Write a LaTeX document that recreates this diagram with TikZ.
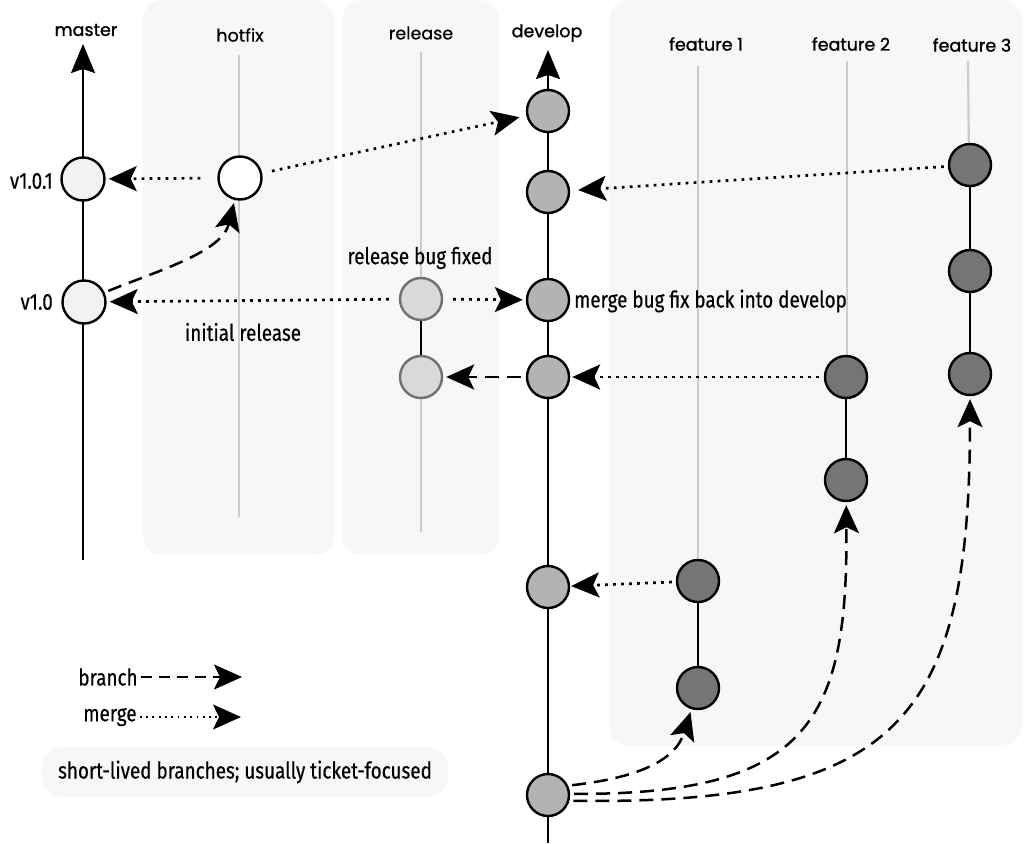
\documentclass[tikz,border=0pt]{standalone}
\usepackage{fontspec}
\setmainfont{Fira Sans}[FakeStretch=0.82,FakeBold=0.4]
\newfontfamily\titlefont{Poppins}[FakeBold=1.2]
\newfontfamily\titlelightfont{Poppins}[FakeBold=0.5]
\usetikzlibrary{arrows.meta}
\definecolor{panel}{HTML}{F7F7F7}
\definecolor{masterfill}{HTML}{F2F2F2}
\definecolor{relfill}{HTML}{D9D9D9}
\definecolor{relstroke}{HTML}{707070}
\definecolor{devfill}{HTML}{B3B3B3}
\definecolor{featfill}{HTML}{757575}
\definecolor{guide}{HTML}{CCCCCC}
\begin{document}
\begin{tikzpicture}[x=1pt,y=-1pt,
  bigtip/.tip={Stealth[length=28pt,width=25pt,inset=6pt]},
  trunk/.style={line width=2.4pt,-{Stealth[length=29pt,width=24pt,inset=4pt]}},
  guideline/.style={guide,line width=2.2pt},
  seg/.style={line width=2.4pt},
  commit/.style={circle,draw,line width=2.4pt,minimum size=42pt,inner sep=0pt},
  mergearrow/.style={line width=2.7pt,line cap=butt,dash pattern=on 2.7pt off 5.3pt,-bigtip,shorten <=8pt,shorten >=3pt},
  brancharrow/.style={line width=2.5pt,dash pattern=on 14pt off 8pt,-bigtip,shorten <=4pt,shorten >=3pt},
  lbl/.style={font=\fontsize{23}{26}\selectfont,inner sep=1pt},
  ttl/.style={font=\titlefont\fontsize{17.5}{20}\selectfont,inner sep=1pt},
  ttllight/.style={font=\titlelightfont\fontsize{17.5}{20}\selectfont,inner sep=1pt},
  panelbox/.style={fill=panel,rounded corners=20pt}]
\useasboundingbox (0,0) rectangle (1024,843);
\fill[white] (0,0) rectangle (1024,843);
% panels
\path[panelbox] (143,0) rectangle (334,555);
\path[panelbox] (342,0) rectangle (499,555);
\path[panelbox] (609,0) rectangle (1022,745);
% titles
\node[ttl] (tmaster) at (86,30) {master};
\node[ttllight] (thotfix) at (240,35) {hotfix};
\node[ttllight] (trelease) at (421,33) {release};
\node[ttl] (tdevelop) at (547,33) {develop};
\node[ttl] (tf1) at (706,44) {feature 1};
\node[ttl] (tf2) at (851,44) {feature 2};
\node[ttl] (tf3) at (972,45) {feature 3};
% guide lines
\coordinate (hg1) at (239,55); \coordinate (hg2) at (239,517);
\coordinate (rg1) at (421,52); \coordinate (rg2) at (421,532);
\coordinate (f1g1) at (698,66); \coordinate (f1g2) at (698,570);
\coordinate (f2g1) at (847,61); \coordinate (f2g2) at (847,370);
\coordinate (f3g1) at (968,61); \coordinate (f3g2) at (969,160);
\draw[guideline] (hg1) -- (hg2);
\draw[guideline] (rg1) -- (rg2);
\draw[guideline] (f1g1) -- (f1g2);
\draw[guideline] (f2g1) -- (f2g2);
\draw[guideline] (f3g1) -- (f3g2);
% trunks
\coordinate (mbot) at (83,560); \coordinate (mtop) at (83,44);
\coordinate (dbot) at (548,843); \coordinate (dtop) at (548,50);
\draw[trunk] (mbot) -- (mtop);
\draw[trunk] (dbot) -- (dtop);
% commits
\node[commit,fill=masterfill,minimum size=43pt] (m1) at (83,179) {};
\node[commit,fill=masterfill,minimum size=43pt] (m2) at (84,302) {};
\node[commit,fill=white,minimum size=43pt] (h1) at (240,178) {};
\node[commit,fill=relfill,draw=relstroke] (r1) at (421,299) {};
\node[commit,fill=relfill,draw=relstroke] (r2) at (421,377) {};
\node[commit,fill=devfill] (d1) at (548,111) {};
\node[commit,fill=devfill] (d2) at (548,192) {};
\node[commit,fill=devfill] (d3) at (548,300) {};
\node[commit,fill=devfill] (d4) at (548,377) {};
\node[commit,fill=devfill] (d5) at (548,587) {};
\node[commit,fill=devfill] (d6) at (548,795) {};
\node[commit,fill=featfill] (f1a) at (698,581) {};
\node[commit,fill=featfill] (f1b) at (698,688) {};
\node[commit,fill=featfill] (f2a) at (846,377) {};
\node[commit,fill=featfill] (f2b) at (846,480) {};
\node[commit,fill=featfill] (f3a) at (970,165) {};
\node[commit,fill=featfill] (f3b) at (970,271) {};
\node[commit,fill=featfill] (f3c) at (970,374) {};
% solid segments
\draw[seg] (r1) -- (r2);
\draw[seg] (f1a) -- (f1b);
\draw[seg] (f2a) -- (f2b);
\draw[seg] (f3a) -- (f3b);
\draw[seg] (f3b) -- (f3c);
% labels
\node[lbl,anchor=east] (lv101) at (54,181) {v1.0.1};
\node[lbl,anchor=east] (lv10) at (54,302) {v1.0};
\node[lbl] (lrbf) at (420,258) {release bug fixed};
\node[lbl,anchor=west] (lmerge) at (573,301) {merge bug fix back into develop};
\node[lbl] (linit) at (243,332) {initial release};
% merges
\draw[mergearrow,shorten <=10pt,shorten >=7pt] (h1) -- (d1);
\draw[mergearrow,shorten <=17pt] (h1) -- (m1);
\draw[mergearrow,shorten <=10pt] (r1) -- (m2);
\draw[mergearrow,shorten <=10pt] (r1) -- (d3);
\draw[mergearrow,shorten <=5pt,shorten >=2pt] (f2a) -- (d4);
\draw[mergearrow,shorten <=4pt,shorten >=8pt] (f3a) -- (d2);
\draw[mergearrow,shorten <=4pt,shorten >=1pt] (f1a) -- (d5);
% branches
\draw[brancharrow,shorten <=5pt] (d4) -- (r2);
\draw[brancharrow] (m2.25) .. controls (160,270) and (222,252) .. (h1);
\draw[brancharrow] (d6.25) .. controls (635,778) and (675,762) .. (f1b);
\draw[brancharrow] (d6.3) .. controls (810,795) and (848,720) .. (f2b);
\draw[brancharrow] (d6.-15) .. controls (900,805) and (970,720) .. (f3c);
% legend
\node[lbl] (lb) at (108,677) {branch};
\coordinate (lbe) at (242,677);
\draw[brancharrow,shorten <=2pt,shorten >=0pt,line width=2.2pt,dash pattern=on 11pt off 7pt] (lb) -- (lbe);
\node[lbl] (lm) at (110,717) {merge};
\coordinate (lme) at (241,717);
\draw[mergearrow,shorten <=2pt,shorten >=0pt,line width=1.8pt,dash pattern=on 1.8pt off 4.5pt] (lm) -- (lme);
\node[lbl,fill=panel,rounded corners=20pt,minimum width=406pt,minimum height=50pt] (note) at (245,772) {short-lived branches; usually ticket-focused};
\end{tikzpicture}
\end{document}
